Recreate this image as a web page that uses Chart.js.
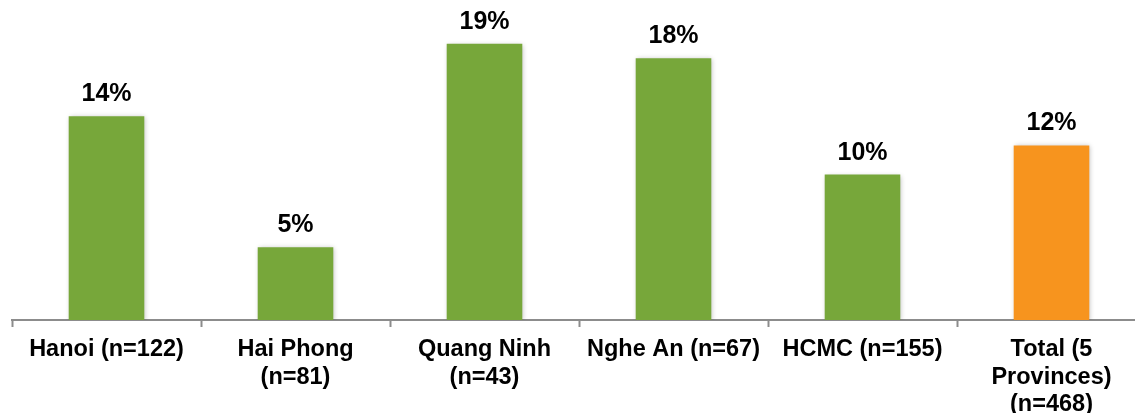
<!DOCTYPE html>
<html>
<head>
<meta charset="utf-8">
<script src="https://cdn.jsdelivr.net/npm/chart.js@4/dist/chart.umd.min.js"></script>
<style>
  html, body { margin: 0; padding: 0; background: #ffffff; }
  #wrap { width: 1135px; height: 413px; overflow: hidden; position: relative; }
  canvas { display: block; }
</style>
</head>
<body>
<div id="wrap"><canvas id="c" width="1150" height="413"></canvas></div>
<script>
// Categories (multi-line labels wrap as in the printed axis)
const categories = [
  "Hanoi (n=122)",
  ["Hai Phong", "(n=81)"],
  ["Quang Ninh", "(n=43)"],
  "Nghe An (n=67)",
  "HCMC (n=155)",
  ["Total (5", "Provinces)", "(n=468)"]
];
// Share of respondents, percent
const values = [14, 5, 19, 18, 10, 12];
const barColors = ["#77A73A", "#77A73A", "#77A73A", "#77A73A", "#77A73A", "#F7941E"];

const FONT = "'Liberation Sans', Arial, sans-serif";

// Soft drop shadow behind the bars, then value labels above each bar
const barDecor = {
  id: 'barDecor',
  beforeDatasetsDraw(chart) {
    const ctx = chart.ctx;
    ctx.save();
    ctx.shadowColor = 'rgba(0,0,0,0.28)';
    ctx.shadowBlur = 5;
    ctx.shadowOffsetX = 1;
    ctx.shadowOffsetY = 1;
  },
  afterDatasetsDraw(chart) {
    const ctx = chart.ctx;
    ctx.restore();
    const meta = chart.getDatasetMeta(0);
    ctx.save();
    ctx.font = "bold 25px " + FONT;
    ctx.fillStyle = '#000000';
    ctx.textAlign = 'center';
    ctx.textBaseline = 'alphabetic';
    meta.data.forEach((bar, i) => {
      ctx.fillText(values[i] + '%', bar.x, bar.y - 15);
    });
    ctx.restore();
  }
};

new Chart(document.getElementById('c'), {
  type: 'bar',
  data: {
    labels: categories,
    datasets: [{
      data: values,
      backgroundColor: barColors,
      borderWidth: 0,
      barPercentage: 0.4,
      categoryPercentage: 1.0
    }]
  },
  options: {
    responsive: false,
    animation: false,
    events: [],
    layout: { padding: { left: 12, right: 4, top: 0, bottom: 0 } },
    plugins: {
      legend: { display: false },
      tooltip: { enabled: false }
    },
    scales: {
      x: {
        grid: {
          display: true,
          drawOnChartArea: false,
          drawTicks: true,
          tickLength: 7,
          tickWidth: 2,
          color: '#8C8C8C',
          offset: true
        },
        border: { display: true, color: '#8C8C8C', width: 2 },
        ticks: {
          color: '#000000',
          padding: 9,
          maxRotation: 0,
          autoSkip: false,
          font: { family: FONT, size: 23.5, weight: 'bold', lineHeight: 1.17 }
        },
        afterFit(scale) { scale.height = 93; }
      },
      y: {
        display: false,
        min: 0,
        max: 22
      }
    }
  },
  plugins: [barDecor]
});
</script>
</body>
</html>
